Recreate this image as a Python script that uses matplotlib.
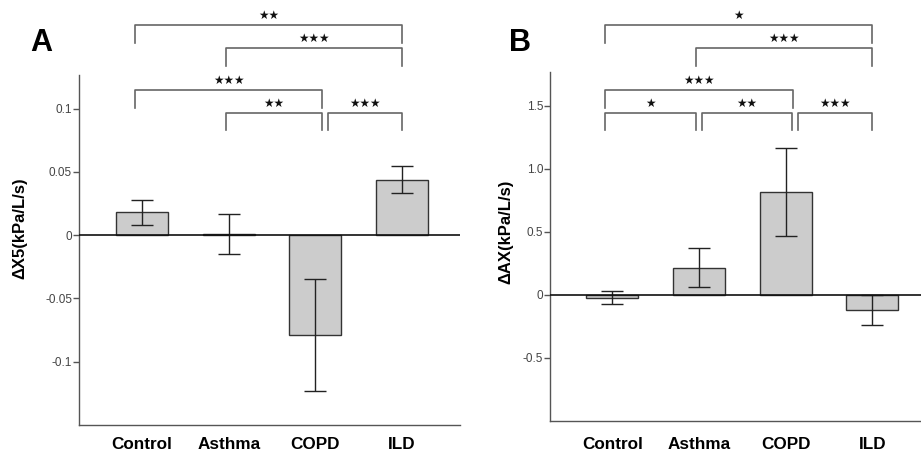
import matplotlib
matplotlib.use("Agg")
import matplotlib.pyplot as plt
import matplotlib.transforms as mtransforms
import numpy as np

plt.rcParams["font.family"] = ["Liberation Sans", "DejaVu Sans"]

groups = ["Control", "Asthma", "COPD", "ILD"]

# Panel A: change in X5
x5_mean = [0.018, 0.001, -0.079, 0.044]
x5_se = [0.010, 0.016, 0.044, 0.011]
x5_ticks = [-0.1, -0.05, 0, 0.05, 0.1]
x5_ticklabels = ["-0.1", "-0.05", "0", "0.05", "0.1"]
x5_sig = [(0, 3, 0, "★★"), (1, 3, 1, "★★★"), (0, 2, 2, "★★★"),
          (1, 2, 3, "★★"), (2, 3, 3, "★★★")]

# Panel B: change in AX
ax_mean = [-0.021, 0.217, 0.816, -0.119]
ax_se = [0.055, 0.156, 0.351, 0.119]
ax_ticks = [-0.5, 0, 0.5, 1.0, 1.5]
ax_ticklabels = ["-0.5", "0", "0.5", "1.0", "1.5"]
ax_sig = [(0, 3, 0, "★"), (1, 3, 1, "★★★"), (0, 2, 2, "★★★"),
          (0, 1, 3, "★"), (1, 2, 3, "★★"), (2, 3, 3, "★★★")]

W, H = 921, 453
fig = plt.figure(figsize=(W / 100, H / 100), dpi=100)

# bracket rows (pixel y from top) and leg nudges per group
row_px = [25, 48.3, 90, 112.5]
leg_px = 17.5
leg_nudge = [-0.08, -0.03, 0.08, 0.0]


def panel(rect, mean, se, ticks, ticklabels, ylim, xlim, ylabel, label_xy,
          xpad, sig):
    ax = fig.add_axes(rect)
    x = np.arange(len(groups))
    ax.bar(x, mean, width=0.6, color="#cccccc", edgecolor="#333333",
           linewidth=1.0, zorder=2)
    ax.errorbar(x, mean, yerr=se, fmt="none", ecolor="#222222",
                elinewidth=1.0, capsize=8, capthick=1.0, zorder=3)
    ax.axhline(0, color="#111111", linewidth=1.2, zorder=4)
    ax.set_xlim(*xlim)
    ax.set_ylim(*ylim)
    ax.set_yticks(ticks)
    ax.set_yticklabels(ticklabels)
    ax.set_xticks(x)
    ax.set_xticklabels(groups, fontsize=12.3, fontweight="bold")
    ax.tick_params(axis="x", length=0, pad=xpad)
    ax.tick_params(axis="y", length=4, width=1, color="#555555",
                   labelcolor="#444444", labelsize=8.5, pad=1)
    for s in ["top", "right"]:
        ax.spines[s].set_visible(False)
    for s in ["left", "bottom"]:
        ax.spines[s].set_color("#555555")
        ax.spines[s].set_linewidth(1.0)
    ax.set_ylabel(ylabel, fontsize=12, fontweight="bold")
    ax.yaxis.set_label_coords(*label_xy)

    trans = mtransforms.blended_transform_factory(ax.transData, fig.transFigure)
    for i, j, row, label in sig:
        x0 = i + leg_nudge[i]
        x1 = j + leg_nudge[j]
        # split adjacent brackets that meet at the same group
        if any(b[2] == row and b[1] == i for b in sig):
            x0 = i + leg_nudge[i] + 0.06
        if any(b[2] == row and b[0] == j for b in sig):
            x1 = j + leg_nudge[j] - 0.01
        ytop = 1 - row_px[row] / H
        ybot = 1 - (row_px[row] + leg_px) / H
        ax.plot([x0, x0, x1, x1], [ybot, ytop, ytop, ybot], transform=trans,
                color="#666666", linewidth=1.2, clip_on=False)
        ax.text((x0 + x1) / 2, ytop + 9.5 / H, label, transform=trans,
                ha="center", va="center", fontsize=8.5, color="#111111",
                family=["DejaVu Sans"])
    return ax


axA = panel([79 / W, 1 - 425 / H, 381 / W, 350 / H], x5_mean, x5_se,
            x5_ticks, x5_ticklabels, (-0.150, 0.1266), (-0.727, 3.667),
            "ΔX5(kPa/L/s)", (-0.136, 0.563), 8.5, x5_sig)
axB = panel([550 / W, 1 - 421 / H, 371 / W, 349.3 / H], ax_mean, ax_se,
            ax_ticks, ax_ticklabels, (-1.0, 1.77), (-0.72, 3.56),
            "ΔAX(kPa/L/s)", (-0.099, 0.5425), 11.5, ax_sig)

fig.text(41 / W, 1 - 43 / H, "A", fontsize=22, fontweight="bold",
         ha="center", va="center")
fig.text(520 / W, 1 - 43 / H, "B", fontsize=22, fontweight="bold",
         ha="center", va="center")

fig.savefig("out.png", dpi=100)
